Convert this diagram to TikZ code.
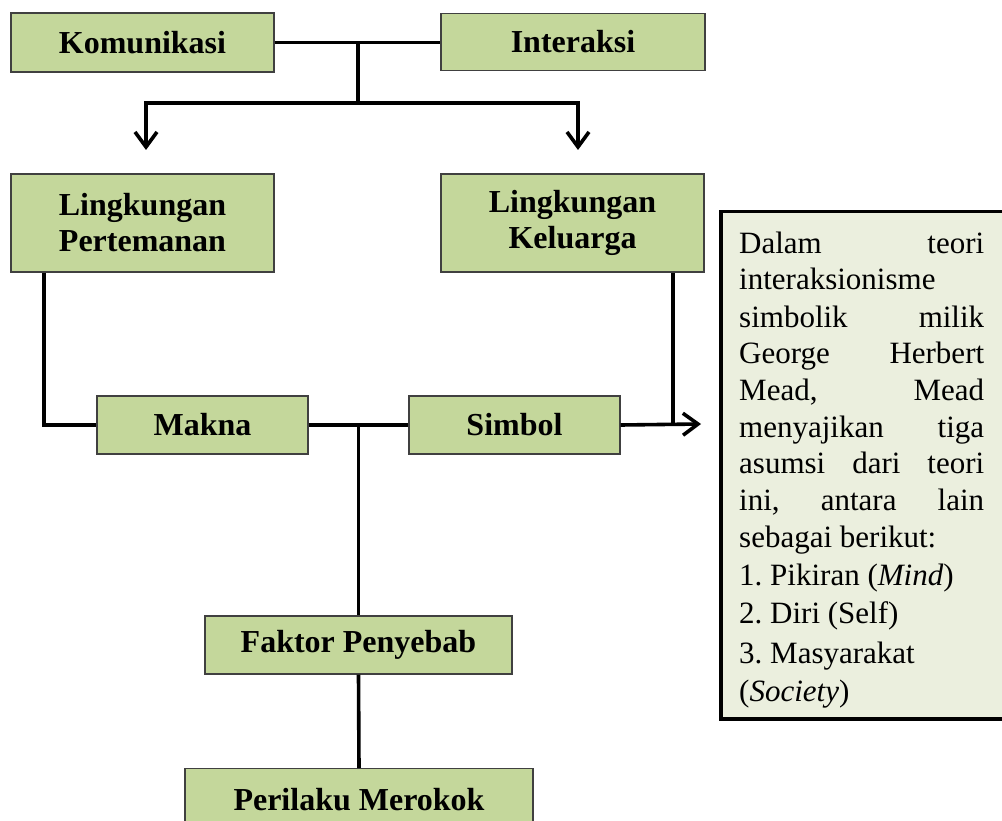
\documentclass[tikz,border=0pt]{standalone}
\usepackage{fontspec}
\setmainfont{Liberation Serif}
\usetikzlibrary{arrows.meta}
\definecolor{boxgreen}{HTML}{C4D79B}
\definecolor{infofill}{HTML}{EBEFDE}
\frenchspacing
\begin{document}
\begin{tikzpicture}[x=1pt,y=-1pt,
  lbl/.style={draw=black!75, line width=1.3pt, fill=boxgreen,
    font=\fontsize{32}{36}\selectfont\bfseries, align=center, inner sep=0pt},
  conn/.style={line width=3.6pt},
  arr/.style={conn, -{Straight Barb[length=15pt,width=22pt]}},
  body/.style={font=\fontsize{31}{36}\selectfont, anchor=base west, inner sep=0pt}]
\useasboundingbox (0,0) rectangle (1002,821);

% boxes
\node[lbl, minimum width=263pt, minimum height=59pt] (kom) at (142.5,42.5) {Komunikasi};
\node[lbl, minimum width=264pt, minimum height=57pt] (int) at (573,42) {Interaksi};
\node[lbl, minimum width=263pt, minimum height=98pt] (per) at (142.5,223) {Lingkungan\\Pertemanan};
\node[lbl, minimum width=263pt, minimum height=98pt] (kel) at (572.5,223) {Lingkungan\\Keluarga};
\node[lbl, minimum width=211pt, minimum height=58pt] (mak) at (202.5,425) {Makna};
\node[lbl, minimum width=211pt, minimum height=58pt] (sim) at (514.5,425) {Simbol};
\node[lbl, minimum width=307pt, minimum height=58pt] (fak) at (358.5,645) {Faktor Penyebab};
\node[lbl, minimum width=348pt, minimum height=62pt, anchor=north] (pm) at (359,768) {Perilaku Merokok};
\node[draw=black, line width=3.5pt, fill=infofill, minimum width=300pt, minimum height=507pt,
  anchor=north west, inner sep=0pt] (info) at (719,210) {};

% info text
\node[body] (t1) at (739,254) {\makebox[245pt][s]{Dalam teori}};
\node[body] (t2) at (739,290) {interaksionisme};
\node[body] (t3) at (739,327) {\makebox[245pt][s]{simbolik milik}};
\node[body] (t4) at (739,363) {\makebox[245pt][s]{George Herbert}};
\node[body] (t5) at (739,400) {\makebox[245pt][s]{Mead, Mead}};
\node[body] (t6) at (739,437) {\makebox[245pt][s]{menyajikan tiga}};
\node[body] (t7) at (739,473) {\makebox[245pt][s]{asumsi dari teori}};
\node[body] (t8) at (739,510) {\makebox[245pt][s]{ini, antara lain}};
\node[body] (t9) at (739,547) {sebagai berikut:};
\node[body] (t10) at (739,585) {1. Pikiran (\textit{Mind})};
\node[body] (t11) at (739,623) {2. Diri (Self)};
\node[body] (t12) at (739,663) {3. Masyarakat};
\node[body] (t13) at (739,701) {(\textit{Society})};

% connectors
\coordinate (top) at (358,42.5);
\coordinate (split) at (358,103);
\coordinate (tipL) at (146,150);
\coordinate (tipR) at (578,150);
\coordinate (tipS) at (701,424);
\draw[conn] (kom.east) -- (kom.east -| int.west);
\draw[conn] (top) -- (split);
\draw[arr] (split) -| (tipL);
\draw[arr] (split) -| (tipR);
\draw[conn] ([xshift=-98.5pt]per.south) |- (mak.west);
\draw[conn] (mak.east) -- (sim.west);
\draw[arr] (sim.east) -- (tipS);
\draw[conn] ([xshift=100.5pt]kel.south) -- ([xshift=100.5pt]kel.south |- sim.east);
\draw[conn] (mak.east -| fak.north) -- (fak.north);
\draw[conn] (fak.south) -- (pm.north);
\end{tikzpicture}
\end{document}
